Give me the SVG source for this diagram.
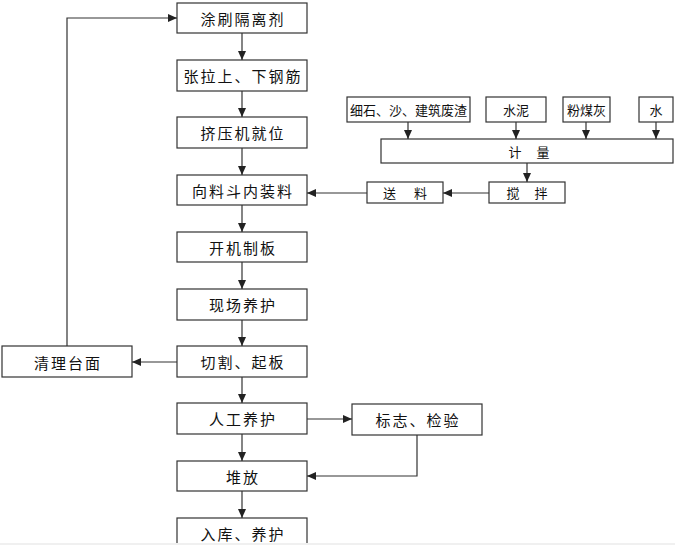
<svg xmlns="http://www.w3.org/2000/svg" width="675" height="545" viewBox="0 0 675 545">
<style>
.box{fill:#fff;stroke:#333;stroke-width:1.2}
.t{font-family:"Noto Sans CJK SC","Noto Sans CJK JP",sans-serif;font-size:15px;fill:#111;text-anchor:middle;dominant-baseline:central;letter-spacing:2px}
.s{font-family:"Noto Sans CJK SC","Noto Sans CJK JP",sans-serif;font-size:13px;fill:#111;text-anchor:middle;dominant-baseline:central}
.w{letter-spacing:15px}
.c{fill:none;stroke:#333;stroke-width:1.2}
</style>
<defs>
<marker id="a" markerUnits="userSpaceOnUse" markerWidth="10" markerHeight="10" refX="9" refY="5" orient="auto">
<path d="M0,1 L9,5 L0,9 Z" fill="#222"/>
</marker>
</defs>
<rect width="675" height="545" fill="#fff"/>
<g id="n1"><rect class="box" x="177" y="3" width="130" height="30"/><text class="t" x="243" y="18">涂刷隔离剂</text></g>
<g id="n2"><rect class="box" x="177" y="60" width="130" height="31"/><text class="t" x="243" y="75.5">张拉上、下钢筋</text></g>
<g id="n3"><rect class="box" x="177" y="117" width="130" height="31"/><text class="t" x="243" y="132.5">挤压机就位</text></g>
<g id="n4"><rect class="box" x="177" y="175" width="130" height="30"/><text class="t" x="243" y="190">向料斗内装料</text></g>
<g id="n5"><rect class="box" x="177" y="232" width="130" height="30"/><text class="t" x="243" y="247">开机制板</text></g>
<g id="n6"><rect class="box" x="177" y="289" width="130" height="31"/><text class="t" x="243" y="304.5">现场养护</text></g>
<g id="n7"><rect class="box" x="177" y="346" width="130" height="31"/><text class="t" x="243" y="361.5">切割、起板</text></g>
<g id="n8"><rect class="box" x="177" y="403" width="130" height="31"/><text class="t" x="243" y="418.5">人工养护</text></g>
<g id="n9"><rect class="box" x="177" y="461" width="130" height="30"/><text class="t" x="243" y="476">堆放</text></g>
<g id="n10"><rect class="box" x="177" y="518" width="130" height="40"/><text class="t" x="243" y="533">入库、养护</text></g>
<g id="n11"><rect class="box" x="2" y="346" width="130" height="31"/><text class="t" x="68" y="362">清理台面</text></g>
<g id="n12"><rect class="box" x="352" y="404" width="130" height="31"/><text class="t" x="418" y="419.5">标志、检验</text></g>
<g id="n13"><rect class="box" x="347" y="97" width="123" height="25"/><text class="s" x="408.5" y="109.5">细石、沙、建筑废渣</text></g>
<g id="n14"><rect class="box" x="486" y="97" width="60" height="25"/><text class="s" x="516" y="109.5">水泥</text></g>
<g id="n15"><rect class="box" x="563" y="97" width="47" height="25"/><text class="s" x="586.5" y="109.5">粉煤灰</text></g>
<g id="n16"><rect class="box" x="639" y="97" width="34" height="25"/><text class="s" x="656" y="109.5">水</text></g>
<g id="n17"><rect class="box" x="381" y="139" width="292" height="24"/><text class="s w" x="536.5" y="151">计量</text></g>
<g id="n18"><rect class="box" x="489" y="182" width="76" height="21"/><text class="s w" x="534.5" y="192.5">搅拌</text></g>
<g id="n19"><rect class="box" x="367" y="182" width="76" height="21"/><text class="s" x="405" y="192.5" style="letter-spacing:18px" dx="9">送料</text></g>
<g id="connectors">
<path class="c" d="M242,33 V60" marker-end="url(#a)"/>
<path class="c" d="M242,91 V117" marker-end="url(#a)"/>
<path class="c" d="M242,148 V175" marker-end="url(#a)"/>
<path class="c" d="M242,205 V232" marker-end="url(#a)"/>
<path class="c" d="M242,262 V289" marker-end="url(#a)"/>
<path class="c" d="M242,320 V346" marker-end="url(#a)"/>
<path class="c" d="M242,377 V403" marker-end="url(#a)"/>
<path class="c" d="M242,434 V461" marker-end="url(#a)"/>
<path class="c" d="M242,491 V518" marker-end="url(#a)"/>
<path class="c" d="M177,362 H132" marker-end="url(#a)"/>
<path class="c" d="M67,346 V18 H177" marker-end="url(#a)"/>
<path class="c" d="M307,419 H352" marker-end="url(#a)"/>
<path class="c" d="M417,435 V476 H307" marker-end="url(#a)"/>
<path class="c" d="M408,122 V139" marker-end="url(#a)"/>
<path class="c" d="M516,122 V139" marker-end="url(#a)"/>
<path class="c" d="M586,122 V139" marker-end="url(#a)"/>
<path class="c" d="M656,122 V139" marker-end="url(#a)"/>
<path class="c" d="M527,163 V182" marker-end="url(#a)"/>
<path class="c" d="M489,193 H443" marker-end="url(#a)"/>
<path class="c" d="M367,193 H307" marker-end="url(#a)"/>
</g>
<rect x="0" y="543" width="675" height="2" fill="#f0f0f0"/>
</svg>
